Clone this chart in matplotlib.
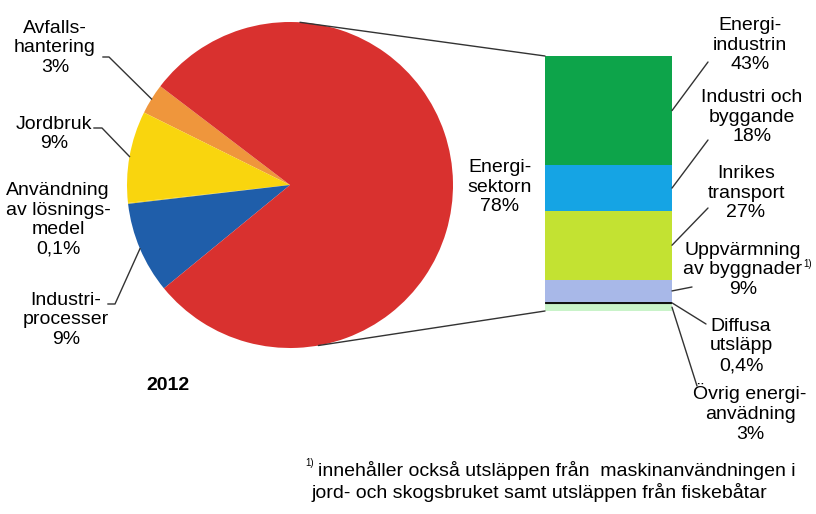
import numpy as np
import matplotlib.pyplot as plt
from matplotlib.patches import ConnectionPatch

plt.rcParams['font.family'] = ['Liberation Sans', 'DejaVu Sans']

W, H = 816, 514  # figure size in pixels, axes use pixel units (y up)

# ------------------- data -------------------
pie_names = ['Avfalls-\nhantering', 'Jordbruk', 'Användning\nav lösnings-\nmedel',
             'Industri-\nprocesser', 'Energi-\nsektorn']
pie_values = [3, 9, 0.1, 9, 78]
pie_colors = ['#EF963C', '#F9D50E', '#F9D50E', '#1F5EAA', '#D9312F']

# stacked bar, bottom to top
bar_names = ['Övrig energi-\nanvädning', 'Diffusa\nutsläpp', 'Uppvärmning\nav byggnader',
             'Inrikes\ntransport', 'Industri och\nbyggande', 'Energi-\nindustrin']
bar_values = [3, 0.4, 9, 27, 18, 43]
bar_colors = ['#C9F3C9', '#111111', '#A8B8E8', '#C3E232', '#15A4E4', '#0DA44A']

year = '2012'
footnote = ['innehåller också utsläppen från  maskinanvändningen i',
            'jord- och skogsbruket samt utsläppen från fiskebåtar']


def pct(v):
    s = f'{v:g}'.replace('.', ',')
    return f'{s}%'


def py(y):
    return H - y


# ------------------- layout -------------------
pie_center = (290, py(185))
pie_r = 163
pie_label_pos = [(55, 48), (54, 134), (58, 220), (66, 320), (500, 187)]
pie_leader_knee = [((103, 57), (109, 57)), ((94, 128), (102, 128)), None,
                   ((108, 304), (115, 304)), None]

bar_box = (545, 56, 672, 311)  # left, top, right, bottom in pixels
bar_label_pos = [(750, 413), (741, 346), (743, 270), (746, 193), (752, 117), (750, 45)]
bar_leader_end = [(697, 386), (706, 324), (692, 287), (708, 208), (708, 140), (708, 62)]

fig = plt.figure(figsize=(W / 100, H / 100), dpi=100)
ax = fig.add_axes([0, 0, 1, 1])

wedges, _ = ax.pie(pie_values, colors=pie_colors, startangle=142.7, counterclock=True,
                   center=pie_center, radius=pie_r, wedgeprops=dict(linewidth=0))
ax.set_xlim(0, W)
ax.set_ylim(0, H)
ax.set_aspect('auto')
ax.axis('off')

txt_kw = dict(ha='center', va='center', ma='center', fontsize=14, linespacing=1.2, color='black')

for w, name, v, pos, knee in zip(wedges, pie_names, pie_values, pie_label_pos, pie_leader_knee):
    ax.text(pos[0], py(pos[1]), f'{name}\n{pct(v)}', **txt_kw)
    if knee is None:
        continue
    mid = np.deg2rad((w.theta1 + w.theta2) / 2)
    ex = pie_center[0] + pie_r * np.cos(mid)
    ey = pie_center[1] + pie_r * np.sin(mid)
    xs = [knee[0][0], knee[1][0], ex]
    ys = [py(knee[0][1]), py(knee[1][1]), ey]
    ax.plot(xs, ys, color='#333333', lw=1)

# stacked bar
l, t, r, b = bar_box
bax = fig.add_axes([l / W, py(b) / H, (r - l) / W, (b - t) / H])
total = sum(bar_values)
bottoms = np.cumsum([0] + bar_values[:-1])
bars = bax.bar(0, bar_values, bottom=bottoms, width=1, color=bar_colors, linewidth=0)
bars[1].set_edgecolor('#111111')
bars[1].set_linewidth(0.8)
bax.set_xlim(-0.5, 0.5)
bax.set_ylim(0, total)
bax.axis('off')

for name, v, b0, pos, end in zip(bar_names, bar_values, bottoms, bar_label_pos, bar_leader_end):
    ax.text(pos[0], py(pos[1]), f'{name}\n{pct(v)}', **txt_kw)
    con = ConnectionPatch(xyA=(0.5, b0 + v / 2), coordsA=bax.transData,
                          xyB=(end[0], py(end[1])), coordsB=ax.transData,
                          color='#333333', lw=1)
    fig.add_artist(con)

# superscript after "byggnader"
ax.text(803, py(264), '1)', fontsize=7, ha='left', va='center')

# lines from pie to bar
for ang, by in [(86.5, total), (280, 0)]:
    a = np.deg2rad(ang)
    pt = (pie_center[0] + pie_r * np.cos(a), pie_center[1] + pie_r * np.sin(a))
    con = ConnectionPatch(xyA=pt, coordsA=ax.transData, xyB=(-0.5, by), coordsB=bax.transData,
                          color='#333333', lw=1)
    fig.add_artist(con)

ax.text(168, py(385), year, fontsize=14, fontweight='bold', ha='center', va='center')

ax.text(305, py(463), '1)', fontsize=7, ha='left', va='center')
ax.text(318, py(470), footnote[0], fontsize=14, ha='left', va='center')
ax.text(312, py(493), footnote[1], fontsize=14, ha='left', va='center')

fig.savefig('out.png', dpi=100)
